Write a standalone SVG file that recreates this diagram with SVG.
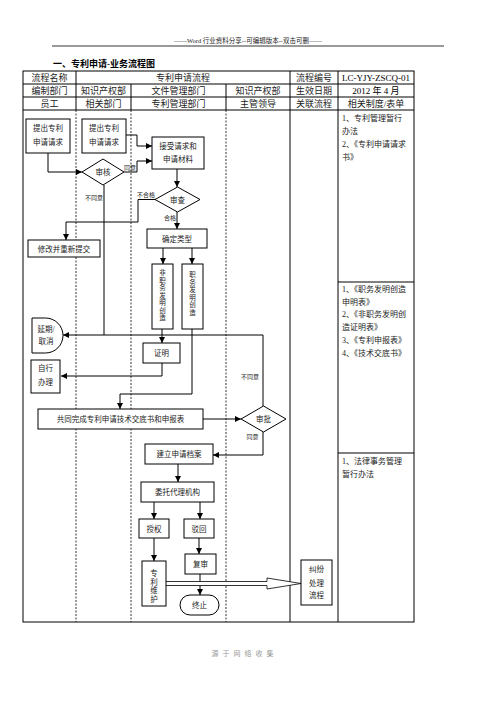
<svg xmlns="http://www.w3.org/2000/svg" width="496" height="702" viewBox="0 0 496 702">
<style>
text{font-family:"Liberation Serif","Noto Sans CJK SC",serif;fill:#222;}
.h{font-size:9px;text-anchor:middle;}
.n{font-size:7.5px;text-anchor:middle;}
.v{font-size:6.5px;text-anchor:middle;}
.l{font-size:6px;text-anchor:middle;}
.r{font-size:8px;}
.box{fill:#fff;stroke:#000;stroke-width:1;}
.grid{stroke:#000;stroke-width:1;fill:none;}
.dash{stroke:#000;stroke-width:0.8;stroke-dasharray:2,1.5;fill:none;}
.c{stroke:#000;stroke-width:1;fill:none;}
.ca{stroke:#000;stroke-width:1;fill:none;marker-end:url(#ah);}
</style>
<defs>
<marker id="ah" viewBox="0 0 10 10" refX="10" refY="5" markerWidth="6" markerHeight="6" markerUnits="userSpaceOnUse" orient="auto">
<path d="M0,0 L10,5 L0,10 Z" fill="#000"/>
</marker>
</defs>
<rect width="496" height="702" fill="#fff"/>
<text x="248" y="43" style="font-size:6.5px;text-anchor:middle;">——Word 行业资料分享--可编辑版本--双击可删——</text>
<line x1="52" y1="46" x2="444" y2="46" stroke="#000" stroke-width="0.8"/>
<text x="53" y="67" style="font-size:9px;font-weight:bold;fill:#000;">一、专利申请-业务流程图</text>
<g id="table">
<rect x="23" y="71" width="391" height="551" class="grid"/>
<line x1="23" y1="84" x2="414" y2="84" class="grid"/>
<line x1="23" y1="97" x2="414" y2="97" class="grid"/>
<line x1="23" y1="110" x2="414" y2="110" class="grid"/>
<line x1="76" y1="71" x2="76" y2="110" class="grid"/>
<line x1="131" y1="84" x2="131" y2="110" class="grid"/>
<line x1="226" y1="84" x2="226" y2="110" class="grid"/>
<line x1="290" y1="71" x2="290" y2="622" class="grid"/>
<line x1="338" y1="71" x2="338" y2="622" class="grid"/>
<line x1="76" y1="110" x2="76" y2="622" class="dash"/>
<line x1="131" y1="110" x2="131" y2="622" class="dash"/>
<line x1="226" y1="110" x2="226" y2="622" class="dash"/>
<line x1="338" y1="282" x2="414" y2="282" class="grid"/>
<line x1="338" y1="453" x2="414" y2="453" class="grid"/>
<text x="49.5" y="81" class="h">流程名称</text>
<text x="183" y="81" class="h">专利申请流程</text>
<text x="314" y="81" class="h">流程编号</text>
<text x="376" y="81" class="h" style="fill:#000;">LC-YJY-ZSCQ-01</text>
<text x="49.5" y="94" class="h">编制部门</text>
<text x="103.5" y="94" class="h">知识产权部</text>
<text x="178.5" y="94" class="h">文件管理部门</text>
<text x="258" y="94" class="h">知识产权部</text>
<text x="314" y="94" class="h">生效日期</text>
<text x="376" y="94" class="h" style="fill:#000;">2012 年 4 月</text>
<text x="49.5" y="107" class="h">员工</text>
<text x="103.5" y="107" class="h">相关部门</text>
<text x="178.5" y="107" class="h">专利管理部门</text>
<text x="258" y="107" class="h">主管领导</text>
<text x="314" y="107" class="h">关联流程</text>
<text x="376" y="107" class="h">相关制度/表单</text>
<text x="342" y="121" class="r">1、专利管理暂行</text>
<text x="342" y="134" class="r">办法</text>
<text x="342" y="147" class="r">2、《专利申请请求</text>
<text x="342" y="160" class="r">书》</text>
<text x="342" y="292" class="r">1、《职务发明创造</text>
<text x="342" y="305" class="r">申明表》</text>
<text x="342" y="317" class="r">2、《非职务发明创</text>
<text x="342" y="330" class="r">造证明表》</text>
<text x="342" y="343" class="r">3、《专利申报表》</text>
<text x="342" y="356" class="r">4、《技术交底书》</text>
<text x="342" y="464" class="r">1、法律事务管理</text>
<text x="342" y="477" class="r">暂行办法</text>
</g>
<g id="connectors">
<path d="M48,153 V172 H82" class="ca"/>
<path d="M126,135 H137 V146 H152" class="ca"/>
<path d="M124,172 H137 V161 H152" class="ca"/>
<path d="M177,169 V187" class="ca"/>
<path d="M155,199.5 H138 V222 H66 V240" class="ca"/>
<path d="M177,212 V229" class="ca"/>
<path d="M163,248 V264" class="ca"/>
<path d="M192,248 V264" class="ca"/>
<path d="M162,329 V343" class="ca"/>
<path d="M162,363 V376 H61" class="ca"/>
<path d="M104,185 V335" class="c"/>
<path d="M263,406 V335 H63" class="ca"/>
<path d="M192,329 V394 H120 V409" class="ca"/>
<path d="M203,419 H241" class="ca"/>
<path d="M263,432 V455 H213" class="ca"/>
<path d="M178,464 V482" class="ca"/>
<path d="M154,502 V519" class="ca"/>
<path d="M200,502 V519" class="ca"/>
<path d="M154,538 V561" class="ca"/>
<path d="M199,538 V554" class="ca"/>
<path d="M200,574 V595" class="ca"/>
<path d="M166,581.5 H267 V578 L301,583.5 L267,589 V585.5 H166" fill="#fff" stroke="#000" stroke-width="0.8"/>
<text x="130" y="170" class="l">同意</text>
<text x="94" y="200" class="l">不同意</text>
<text x="146" y="197" class="l">不合格</text>
<text x="170" y="220" class="l">合格</text>
<text x="250" y="379" class="l">不同意</text>
<text x="252.5" y="439" class="l">同意</text>
</g>
<g id="n_submit1"><rect x="26" y="119" width="44" height="34" class="box"/><text x="48" y="131" class="n">提出专利</text><text x="48" y="145" class="n">申请请求</text></g>
<g id="n_submit2"><rect x="82" y="119" width="44" height="34" class="box"/><text x="104" y="131" class="n">提出专利</text><text x="104" y="145" class="n">申请请求</text></g>
<g id="n_receive"><rect x="152" y="137" width="52" height="32" class="box"/><text x="178" y="149" class="n">接受请求和</text><text x="178" y="162" class="n">申请材料</text></g>
<g id="n_audit"><path d="M82,172 L103,159 L124,172 L103,185 Z" class="box"/><text x="103" y="175" class="n">审核</text></g>
<g id="n_check"><path d="M155,199.5 L177.5,187 L200,199.5 L177.5,212 Z" class="box"/><text x="177.5" y="202.5" class="n">审查</text></g>
<g id="n_modify"><rect x="28" y="240" width="72" height="17" class="box"/><text x="64" y="251.5" class="n">修改并重新提交</text></g>
<g id="n_type"><rect x="147" y="229" width="60" height="19" class="box"/><text x="177" y="241.5" class="n">确定类型</text></g>
<g id="n_nonservice"><rect x="152" y="264" width="21" height="65" class="box"/>
<text class="v"><tspan x="162.5" y="275">非</tspan><tspan x="162.5" y="282.5">职</tspan><tspan x="162.5" y="290">务</tspan><tspan x="162.5" y="297.5">发</tspan><tspan x="162.5" y="305">明</tspan><tspan x="162.5" y="312.5">创</tspan><tspan x="162.5" y="320">造</tspan></text></g>
<g id="n_service"><rect x="182" y="264" width="21" height="65" class="box"/>
<text class="v"><tspan x="192.5" y="277">职</tspan><tspan x="192.5" y="284.5">务</tspan><tspan x="192.5" y="292">发</tspan><tspan x="192.5" y="299.5">明</tspan><tspan x="192.5" y="307">创</tspan><tspan x="192.5" y="314.5">造</tspan></text></g>
<g id="n_delay"><path d="M32,318 H45.5 A17.5,17.5 0 0 1 45.5,353 H32 Z" class="box"/><text x="46" y="332" class="n">延期/</text><text x="46" y="344" class="n">取消</text></g>
<g id="n_prove"><rect x="143" y="343" width="37" height="20" class="box"/><text x="161.5" y="356" class="n">证明</text></g>
<g id="n_self"><rect x="31" y="360" width="29" height="33" class="box"/><text x="45.5" y="371" class="n">自行</text><text x="45.5" y="385" class="n">办理</text></g>
<g id="n_joint"><rect x="38" y="409" width="165" height="20" class="box"/><text x="120.5" y="422" class="n">共同完成专利申请技术交底书和申报表</text></g>
<g id="n_approve"><path d="M241,419 L263.5,406 L286,419 L263.5,432 Z" class="box"/><text x="263.5" y="422" class="n">审批</text></g>
<g id="n_archive"><rect x="145" y="444" width="68" height="20" class="box"/><text x="179" y="457" class="n">建立申请档案</text></g>
<g id="n_agent"><rect x="141" y="482" width="73" height="20" class="box"/><text x="177.5" y="495" class="n">委托代理机构</text></g>
<g id="n_grant"><rect x="139" y="519" width="30" height="19" class="box"/><text x="154" y="531.5" class="n">授权</text></g>
<g id="n_reject"><rect x="184" y="519" width="30" height="19" class="box"/><text x="199" y="531.5" class="n">驳回</text></g>
<g id="n_maint"><rect x="142" y="561" width="24" height="45" class="box"/>
<text class="n"><tspan x="154" y="576">专</tspan><tspan x="154" y="584.5">利</tspan><tspan x="154" y="593">维</tspan><tspan x="154" y="601.5">护</tspan></text></g>
<g id="n_review"><rect x="185" y="554" width="31" height="20" class="box"/><text x="200.5" y="567" class="n">复审</text></g>
<g id="n_end"><rect x="180" y="595" width="39" height="20" rx="10" ry="10" class="box"/><text x="199.5" y="608" class="n">终止</text></g>
<g id="n_dispute"><rect x="301" y="560" width="31" height="45" class="box"/><text x="316.5" y="572" class="n">纠纷</text><text x="316.5" y="586" class="n">处理</text><text x="316.5" y="598" class="n">流程</text></g>
<text x="244.5" y="656" style="font-size:7px;text-anchor:middle;letter-spacing:4px;fill:#999;">源于网络收集</text>
</svg>
